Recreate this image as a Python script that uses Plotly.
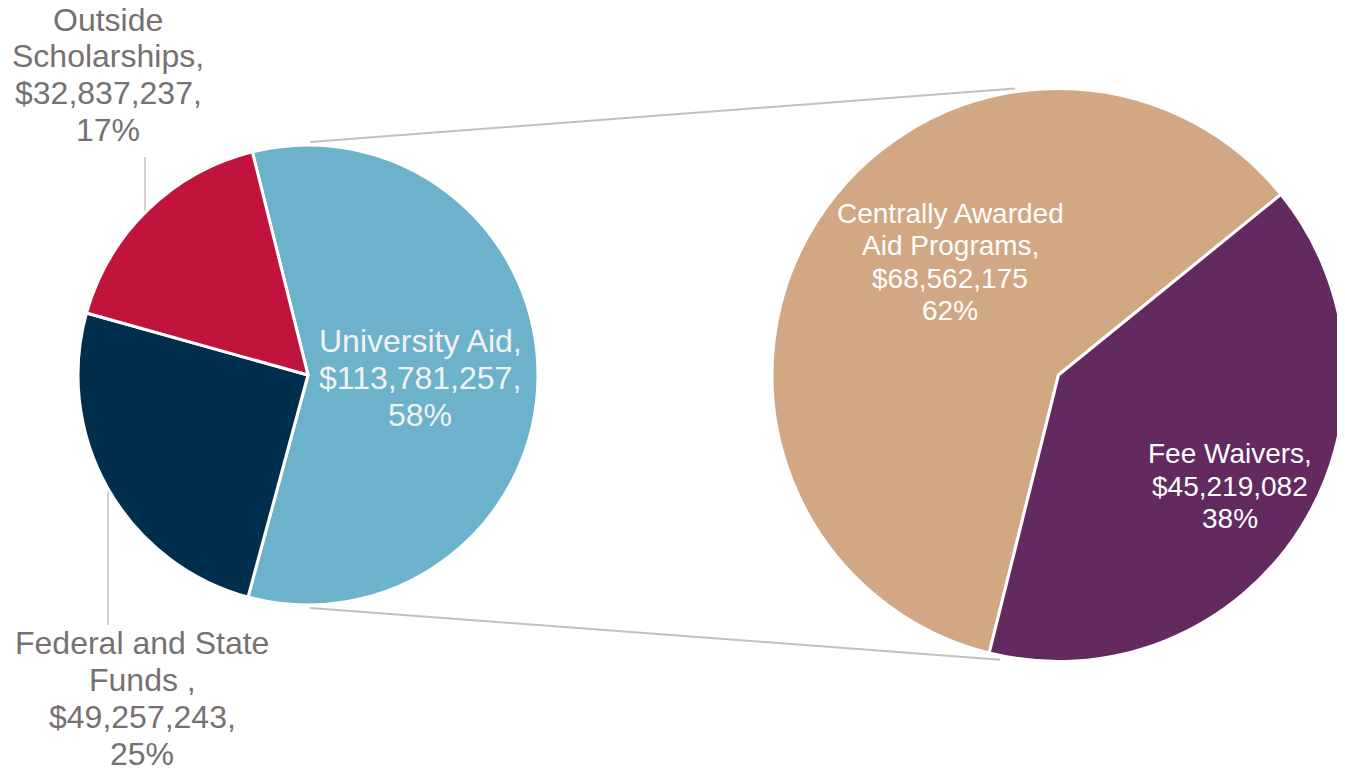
import numpy as np
import plotly.graph_objects as go

# ---- data ----
main_labels = ["University Aid", "Federal and State\nFunds ", "Outside\nScholarships"]
main_values = [113781257, 49257243, 32837237]
main_colors = ["#6CB2CB", "#002E4D", "#C0143C"]

sub_labels = ["Centrally Awarded\nAid Programs", "Fee Waivers"]
sub_values = [68562175, 45219082]
sub_pct = [62, 38]  # as printed on the chart
sub_colors = ["#D2A784", "#622A5F"]

W, H = 1345, 769
OFF = 8  # the page body adds an 8px margin around the figure
FW, FH = W - OFF, H - OFF
FONT = "Liberation Sans, Arial, sans-serif"
GREY_TXT = "#767171"
LINE_CLR = "#C4C0BC"

# pie geometry (window pixels)
lcx, lcy, lr = 308, 375, 230
rcx, rcy, rr = 1060, 375, 288


def fx(x):
    return (x - OFF) / FW


def fy(y):
    return 1 - (y - OFF) / FH


fig = go.Figure()

fig.add_trace(go.Pie(
    labels=[l.replace("\n", " ") for l in main_labels],
    values=main_values,
    sort=False,
    direction="clockwise",
    rotation=-14,
    marker=dict(colors=main_colors, line=dict(color="white", width=3)),
    textinfo="none",
    hoverinfo="label+value+percent",
    domain=dict(x=[fx(lcx - lr), fx(lcx + lr)], y=[fy(lcy + lr), fy(lcy - lr)]),
    showlegend=False,
))

fig.add_trace(go.Pie(
    labels=[l.replace("\n", " ") for l in sub_labels],
    values=sub_values,
    sort=False,
    direction="clockwise",
    rotation=194,
    marker=dict(colors=sub_colors, line=dict(color="white", width=3)),
    textinfo="none",
    hoverinfo="label+value",
    domain=dict(x=[fx(rcx - rr), min(1.0, fx(rcx + rr))], y=[fy(rcy + rr), fy(rcy - rr)]),
    showlegend=False,
))

# ---- labels ----
main_total = sum(main_values)
main_pct = [round(v / main_total * 100) for v in main_values]


def add_label(lines, cx, cy, size, color, spacing):
    n = len(lines)
    for i, t in enumerate(lines):
        y = cy + (i - (n - 1) / 2) * spacing
        fig.add_annotation(
            x=fx(cx), y=fy(y), xref="paper", yref="paper",
            text=t, showarrow=False, xanchor="center", yanchor="middle",
            font=dict(family=FONT, size=size, color=color),
        )


label_pos_main = [(420, 378, "#F2F2F2"), (142, 698, GREY_TXT), (108, 75, GREY_TXT)]
for name, v, p, (cx, cy, c) in zip(main_labels, main_values, main_pct, label_pos_main):
    lines = (name + ",").split("\n") + [f"${v:,},", f"{p}%"]
    add_label(lines, cx, cy, 32, c, 37)

label_pos_sub = [(950, 262), (1230, 486)]
for name, v, p, (cx, cy) in zip(sub_labels, sub_values, sub_pct, label_pos_sub):
    lines = (name + ",").split("\n") + [f"${v:,}", f"{p}%"]
    add_label(lines, cx, cy, 28, "white", 32.5)

# ---- connector lines between the pies ----
shapes = []
a_top, a_bot = np.radians(-9), np.radians(192)
conn = [
    ((lcx + 2, lcy - lr - 3), (rcx + rr * np.sin(a_top), rcy - rr * np.cos(a_top) - 2)),
    ((lcx + 2, lcy + lr + 3), (rcx + rr * np.sin(a_bot), rcy - rr * np.cos(a_bot) + 3)),
]
for (x0, y0), (x1, y1) in conn:
    shapes.append(dict(type="line", xref="paper", yref="paper",
                       x0=fx(x0), y0=fy(y0), x1=fx(x1), y1=fy(y1),
                       line=dict(color=LINE_CLR, width=2), layer="below"))

# leader lines for outside labels
for (x0, y0, y1) in [(145, 157, 212), (108, 489, 625)]:
    shapes.append(dict(type="line", xref="paper", yref="paper",
                       x0=fx(x0), y0=fy(y0), x1=fx(x0), y1=fy(y1),
                       line=dict(color=LINE_CLR, width=1.5), layer="below"))

fig.update_layout(
    width=FW, height=FH,
    margin=dict(l=0, r=0, t=0, b=0),
    paper_bgcolor="white",
    plot_bgcolor="white",
    shapes=shapes,
    font=dict(family=FONT),
)

fig.write_html("out.html")
